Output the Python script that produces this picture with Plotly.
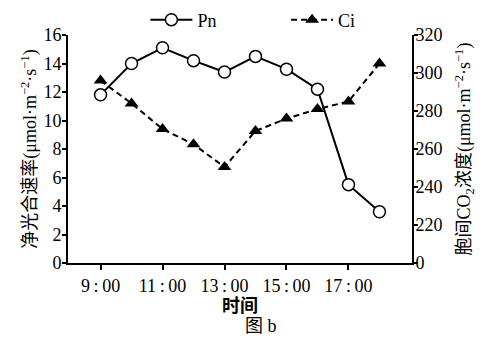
import plotly.graph_objects as go

hours = [9, 10, 11, 12, 13, 14, 15, 16, 17, 18]
pn = [11.8, 14.0, 15.1, 14.2, 13.4, 14.5, 13.6, 12.2, 5.5, 3.6]
ci = [296, 284, 270.5, 262.5, 250.5, 269.5, 276, 281, 285, 305]
x_tickvals = [9, 11, 13, 15, 17]
x_ticktext = ["9\u2009:\u200900", "11\u2009:\u200900", "13\u2009:\u200900", "15\u2009:\u200900", "17\u2009:\u200900"]
y1_ticks = [0, 2, 4, 6, 8, 10, 12, 14, 16]
y2_tickvals = [200, 220, 240, 260, 280, 300, 320]
y2_ticktext = ["0", "220", "240", "260", "280", "300", "320"]

FONT = "Liberation Serif, Times New Roman, Noto Sans CJK SC, serif"

fig = go.Figure()
fig.add_trace(go.Scatter(
    x=hours, y=pn, name="Pn", mode="lines+markers",
    line=dict(color="black", width=2),
    marker=dict(symbol="circle", size=12, color="white", line=dict(color="black", width=1.5)),
    yaxis="y", legend="legend",
))
fig.add_trace(go.Scatter(
    x=hours, y=ci, name="Ci", mode="lines+markers",
    line=dict(color="black", width=2, dash="6px,4px"),
    marker=dict(symbol="triangle-up", size=12, color="black"),
    yaxis="y2", legend="legend2",
))

axis_common = dict(
    showline=True, linecolor="black", linewidth=2, ticks="outside",
    tickwidth=2, tickcolor="black", showgrid=False, zeroline=False,
    tickfont=dict(family=FONT, size=18, color="black"),
)

legend_common = dict(
    orientation="h", xanchor="left", y=1.066, yanchor="middle",
    font=dict(family=FONT, size=18, color="black"),
    bgcolor="rgba(0,0,0,0)", borderwidth=0, itemwidth=42,
)

fig.update_layout(
    width=481, height=338,
    margin=dict(l=68, r=69, t=35, b=75, autoexpand=False),
    paper_bgcolor="white", plot_bgcolor="white",
    font=dict(family=FONT, size=18, color="black"),
    xaxis=dict(
        range=[7.95, 19.05], tickvals=x_tickvals, ticktext=x_ticktext, ticklen=5,
        title=dict(text="<b>时间</b>", font=dict(size=18, family=FONT), standoff=0),
        **axis_common,
    ),
    yaxis=dict(
        range=[0, 16], tickvals=y1_ticks, ticklen=4, ticklabelstandoff=-3,
        title=dict(text="净光合速率(μmol·m<sup>−2</sup>·s<sup>−1</sup>)", font=dict(size=18, family=FONT), standoff=2),
        **axis_common,
    ),
    yaxis2=dict(
        range=[200, 320], tickvals=y2_tickvals, ticktext=y2_ticktext, ticklen=4,
        ticklabelstandoff=-6,
        overlaying="y", side="right",
        title=dict(text="胞间CO<sub>2</sub>浓度(μmol·m<sup>−2</sup>·s<sup>−1</sup>)", font=dict(size=18, family=FONT), standoff=16),
        **axis_common,
    ),
    legend=dict(x=0.225, **legend_common),
    legend2=dict(x=0.634, **legend_common),
    showlegend=True,
    annotations=[dict(
        text="图 b", xref="paper", yref="paper", x=0.56, y=-0.329,
        xanchor="center", yanchor="bottom", showarrow=False,
        font=dict(family=FONT, size=18, color="black"),
    )],
)

fig.write_html("out.html", config={"displayModeBar": False},
               post_script="document.body.style.margin='0';document.body.style.padding='0';")
